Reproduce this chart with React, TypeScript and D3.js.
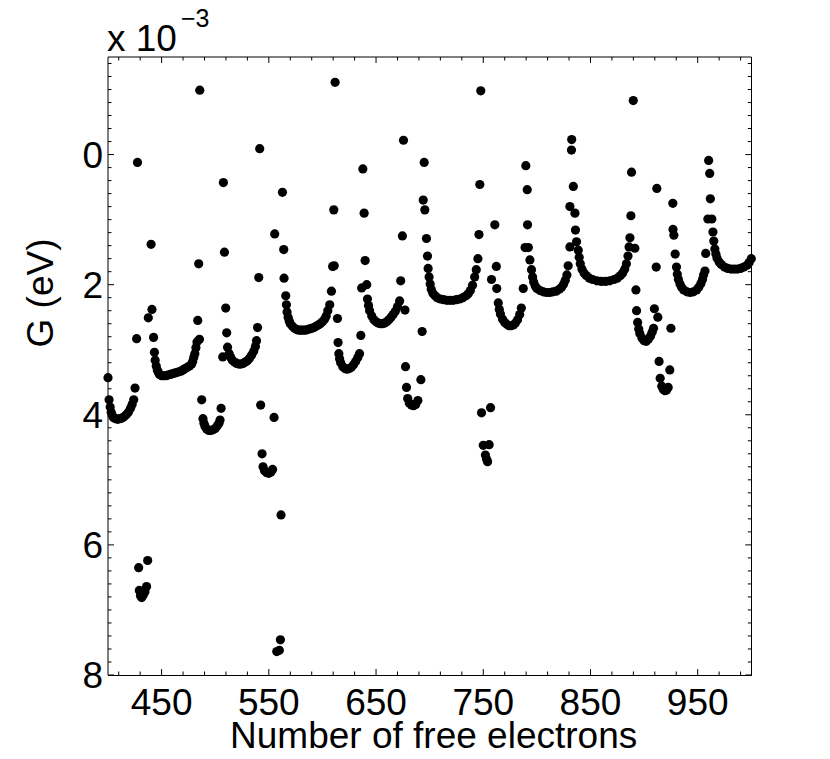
import React from 'react';
import * as d3 from 'd3';

const W = 830;
const H = 759;
const X_DOMAIN: [number, number] = [400, 1000];
const Y_DOMAIN: [number, number] = [-1.5, 8];
const xTickLabels = [450, 550, 650, 750, 850, 950];
const yTickLabels = [0, 2, 4, 6, 8];
const xLabel = 'Number of free electrons';
const yLabel = 'G (eV)';
const scaleBase = 'x 10';
const scaleExp = '\u22123';

// [number of electrons, G], shell by shell
const seg1: [number, number][] = [
  [400, 3.43], [401, 3.77], [402, 3.88], [403, 3.96], [404, 4.01], [405, 4.04], [407, 4.06], [409, 4.07],
  [411, 4.06], [413, 4.05], [415, 4.03], [417, 4.0], [419, 3.96], [421, 3.9], [422.5, 3.84], [424, 3.77],
  [425.2, 3.59], [426.7, 2.83], [427.5, 0.12],
];
const seg2: [number, number][] = [
  [428.6, 6.35], [429.2, 6.7], [430.3, 6.78], [431.4, 6.81], [432.9, 6.77], [434.5, 6.72], [436, 6.64], [437, 6.24],
];
const seg3: [number, number][] = [
  [437.6, 2.51], [440.2, 1.38], [441, 2.38], [442.5, 2.81], [443.3, 3.04], [444, 3.16], [445, 3.25], [446, 3.31],
  [447, 3.35], [448, 3.38], [450, 3.4], [452, 3.4], [454, 3.4], [456, 3.39], [458, 3.38], [460, 3.37], [462, 3.36],
  [464, 3.35], [466, 3.34], [468, 3.33], [470, 3.31], [472, 3.29], [474, 3.27], [476, 3.25], [478, 3.22], [479, 3.18],
  [480, 3.12], [481, 3.06], [482, 2.97], [483, 2.88], [483.7, 2.55], [484.6, 1.68], [485.3, 2.84], [485.6, -0.99],
];
const seg4: [number, number][] = [
  [487.4, 3.77], [488.6, 4.06], [489.5, 4.13], [490.5, 4.18], [492, 4.22], [494, 4.24], [496, 4.24], [498, 4.23],
  [500, 4.21], [502, 4.17], [503.5, 4.13], [504.5, 4.08], [505.5, 3.9],
];
const seg5: [number, number][] = [
  [507, 3.11], [507.6, 0.43], [508.6, 1.5], [509.8, 2.36], [510.7, 2.74], [511.5, 2.96], [513, 3.06], [514.5, 3.12],
  [516, 3.16], [518, 3.19], [520, 3.21], [522, 3.22], [524, 3.22], [526, 3.21], [528, 3.19], [530, 3.17], [532, 3.13],
  [534, 3.08], [536, 3.02], [537.5, 2.95], [538.5, 2.86], [539.5, 2.66], [540.6, 1.89], [541.5, -0.09], [542.4, 3.85],
  [543.7, 4.6],
];
const seg6: [number, number][] = [
  [544.6, 4.8], [546, 4.86], [548, 4.89], [550, 4.9], [552, 4.88], [553.5, 4.84], [554.9, 4.04], [555.5, 1.22],
  [557.4, 7.64], [559.8, 7.62], [560.8, 7.46], [561.4, 5.54], [562.7, 0.58], [563.9, 1.46], [564.2, 1.9], [565.8, 2.17],
  [566.4, 2.31],
];
const seg7: [number, number][] = [
  [567, 2.42], [568, 2.5], [569, 2.56], [570, 2.6], [572, 2.64], [574, 2.67], [576, 2.69], [578, 2.7], [580, 2.7],
  [582, 2.7], [584, 2.7], [586, 2.69], [588, 2.68], [590, 2.67], [592, 2.66], [594, 2.64], [596, 2.62], [598, 2.6],
  [600, 2.57], [602, 2.53], [603.5, 2.48], [605, 2.4], [606.8, 2.31], [608.4, 2.1], [609.5, 1.72], [611, 1.71],
  [610.6, 0.85], [611.8, -1.11],
];
const seg8: [number, number][] = [
  [614, 2.52], [614.6, 2.89], [615.3, 3.06], [616, 3.14], [617, 3.2], [619, 3.26], [621, 3.29], [623, 3.3], [625, 3.29],
  [627, 3.27], [629, 3.23], [631, 3.18], [633, 3.12], [634.6, 3.06], [635.8, 2.78],
];
const seg9: [number, number][] = [
  [636.6, 2.05], [637.7, 0.22], [638.9, 0.9], [639.8, 1.63], [641.3, 2.0], [642, 2.22], [643, 2.32], [644, 2.4],
  [646, 2.48], [648, 2.54], [650, 2.57], [652, 2.59], [654, 2.6], [656, 2.6], [658, 2.59], [660, 2.57], [662, 2.54],
  [664, 2.5], [666, 2.46], [668, 2.41], [670, 2.34], [672, 2.25], [673, 1.94], [674.6, 1.25], [675.6, -0.22], [677, 2.39],
];
const seg10: [number, number][] = [
  [677.5, 3.26], [678.4, 3.58], [679.5, 3.75], [681, 3.82], [683, 3.85], [685, 3.86], [687, 3.84], [689, 3.78],
  [691.8, 3.46], [693, 2.72], [694, 0.7], [694.9, 0.12], [695.5, 0.85], [697, 1.29], [698, 1.56], [698.6, 1.75],
];
const seg11: [number, number][] = [
  [699.5, 1.88], [700.5, 1.99], [701.5, 2.07], [703, 2.13], [705, 2.17], [707, 2.2], [710, 2.22], [713, 2.23],
  [716, 2.24], [719, 2.24], [722, 2.24], [725, 2.23], [728, 2.22], [731, 2.2], [734, 2.17], [736, 2.14], [738, 2.09],
  [740, 2.01], [742, 1.88], [743.5, 1.77], [745, 1.6], [746, 1.23], [746.8, 0.46], [747.7, -0.98],
];
const seg12: [number, number][] = [
  [748.4, 3.97], [750, 4.47], [752, 4.62], [753, 4.68], [754, 4.72], [755.5, 4.46], [756.8, 3.89],
];
const seg13: [number, number][] = [
  [757.7, 1.92], [760.8, 1.08], [762.2, 1.72], [762.6, 2.06], [764, 2.28], [765, 2.38], [766, 2.45], [768, 2.53],
  [770, 2.58], [772, 2.61], [774, 2.63], [776, 2.63], [778, 2.62], [780, 2.59], [782, 2.54], [784, 2.46], [785.5, 2.36],
  [787.3, 2.06], [789, 1.43], [789.7, 0.17], [791, 0.54], [791.3, 1.08], [792, 1.43], [793.5, 1.62], [795, 1.77],
];
const seg14: [number, number][] = [
  [796, 1.88], [797, 1.96], [798.5, 2.02], [800, 2.06], [803, 2.09], [806, 2.11], [809, 2.12], [812, 2.12], [815, 2.11],
  [818, 2.1], [821, 2.07], [823, 2.04], [825, 1.99], [826.5, 1.93], [828, 1.85], [829.2, 1.71], [830.8, 1.42],
  [830.8, 0.8], [832.3, -0.07], [832.5, -0.23], [834, 0.49], [835.5, 0.9], [836, 1.16], [837, 1.34], [838.6, 1.47],
];
const seg15: [number, number][] = [
  [839.5, 1.58], [840.5, 1.68], [842, 1.76], [844, 1.82], [846, 1.86], [849, 1.9], [852, 1.92], [856, 1.94], [860, 1.95],
  [864, 1.95], [868, 1.94], [872, 1.92], [875, 1.9], [878, 1.86], [880, 1.82], [882, 1.76], [883.5, 1.68], [885, 1.56],
  [886, 1.42], [886.8, 1.28], [887.7, 0.94], [888.3, 0.27], [889.9, -0.83], [891.4, 1.44],
];
const seg16: [number, number][] = [
  [892.4, 2.08], [893, 2.4], [894, 2.58], [895, 2.68], [896, 2.75], [898, 2.82], [900, 2.86], [902, 2.87], [904, 2.84],
  [906, 2.79], [907.5, 2.73], [908.8, 2.67], [909.6, 2.37], [911.3, 1.73], [911.9, 0.52], [912.8, 2.5], [914, 3.18],
  [915, 3.44],
];
const seg17: [number, number][] = [
  [916.5, 3.56], [918, 3.61], [919.5, 3.63], [921, 3.62], [922.5, 3.58], [924, 3.31], [925, 2.67], [926.8, 0.75],
  [927, 1.15], [927.8, 1.24], [929, 1.53], [930.2, 1.73],
];
const seg18: [number, number][] = [
  [931, 1.84], [932, 1.92], [933.5, 1.99], [935, 2.04], [937, 2.08], [940, 2.11], [943, 2.12], [946, 2.11], [949, 2.08],
  [951, 2.04], [953, 1.98], [954.5, 1.92], [955.5, 1.85], [956.8, 1.79], [957.5, 1.52],
];
const seg19: [number, number][] = [
  [960.2, 0.09], [961.2, 0.29], [961.8, 0.68], [959.5, 0.99], [963.2, 0.99], [964.2, 1.19], [965, 1.33], [966, 1.45],
  [967, 1.53], [968, 1.59], [970, 1.65], [972, 1.69], [975, 1.73], [978, 1.75], [981, 1.76], [984, 1.76], [987, 1.76],
  [990, 1.75], [993, 1.73], [996, 1.7], [998, 1.66], [1000, 1.6],
];

const segments = [seg1, seg2, seg3, seg4, seg5, seg6, seg7, seg8, seg9, seg10, seg11, seg12, seg13, seg14, seg15, seg16, seg17, seg18, seg19];

const FONT = '"Liberation Sans", Arial, Helvetica, sans-serif';

export default function App() {
  const left = 108, right = 751.3, top = 57, bottom = 675;
  const x = d3.scaleLinear().domain(X_DOMAIN).range([left, right]);
  const y = d3.scaleLinear().domain(Y_DOMAIN).range([top, bottom]);
  const xTicks = d3.range(410, 1000, 20);
  const yTicks = d3.range(-14, 81, 2).map((v) => v / 10);
  const isMajorX = (v: number) => xTickLabels.includes(v);
  const isMajorY = (v: number) => yTickLabels.some((t) => Math.abs(t - v) < 1e-9);
  const points = segments.flat();

  return (
    <svg width={W} height={H} style={{ position: 'absolute', left: 0, top: 0, display: 'block', background: '#fff' }}>
      <rect x={0} y={0} width={W} height={H} fill="#fff" />
      {points.map(([n, g], i) => (
        <circle key={i} cx={x(n)} cy={y(g)} r={4.6} fill="#000" />
      ))}
      {/* frame */}
      <line x1={left} y1={top} x2={right} y2={top} stroke="#000" strokeWidth={1} />
      <line x1={left} y1={top} x2={left} y2={bottom} stroke="#000" strokeWidth={1} />
      <line x1={left} y1={bottom + 0.5} x2={right + 0.5} y2={bottom + 0.5} stroke="#000" strokeWidth={1} />
      <line x1={right + 0.2} y1={top} x2={right + 0.2} y2={bottom + 0.5} stroke="#000" strokeWidth={1} />
      {/* x ticks */}
      {xTicks.map((v) => {
        const len = isMajorX(v) ? 6 : 3.5;
        const px = x(v);
        return (
          <g key={'xt' + v}>
            <line x1={px} y1={bottom} x2={px} y2={bottom - len} stroke="#000" strokeWidth={1} />
            <line x1={px} y1={top} x2={px} y2={top + len} stroke="#000" strokeWidth={1} />
          </g>
        );
      })}
      {/* y ticks */}
      {yTicks.map((v) => {
        const len = isMajorY(v) ? 6 : 3.5;
        const py = y(v);
        return (
          <g key={'yt' + v}>
            <line x1={left} y1={py} x2={left + len} y2={py} stroke="#000" strokeWidth={1} />
            <line x1={right} y1={py} x2={right - len} y2={py} stroke="#000" strokeWidth={1} />
          </g>
        );
      })}
      {/* tick labels */}
      {xTickLabels.map((v) => (
        <text key={'xl' + v} x={x(v)} y={715} textAnchor="middle" fontFamily={FONT} fontSize={37} fill="#000">
          {v}
        </text>
      ))}
      {yTickLabels.map((v) => (
        <text key={'yl' + v} x={103} y={y(v) + 13} textAnchor="end" fontFamily={FONT} fontSize={37} fill="#000">
          {v}
        </text>
      ))}
      {/* axis labels */}
      <text x={(left + right) / 2 + 4} y={748} textAnchor="middle" fontFamily={FONT} fontSize={37} fill="#000">
        {xLabel}
      </text>
      <text
        transform={`translate(53,293) rotate(-90)`}
        textAnchor="middle"
        fontFamily={FONT}
        fontSize={37}
        fill="#000"
      >
        {yLabel}
      </text>
      {/* exponent label */}
      <text x={107} y={51} fontFamily={FONT} fontSize={37} fill="#000">
        {scaleBase}
      </text>
      <text x={181} y={27} fontFamily={FONT} fontSize={25} fill="#000">
        {scaleExp}
      </text>
    </svg>
  );
}
